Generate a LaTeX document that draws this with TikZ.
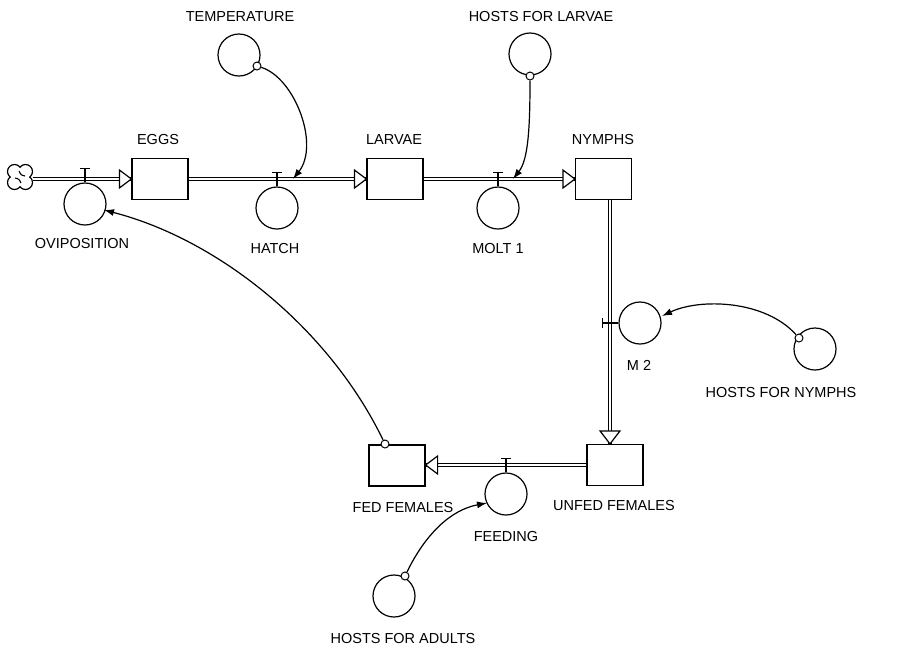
\documentclass[tikz,border=0pt]{standalone}
\usepackage{fontspec}
\setmainfont{Liberation Sans}
\usetikzlibrary{arrows.meta}
\begin{document}
\begin{tikzpicture}[x=1pt,y=-1pt,
 stock/.style={draw,line width=1.2pt,minimum width=56pt,minimum height=41pt,inner sep=0pt},
 aux/.style={draw,circle,line width=1.2pt,minimum size=42pt,inner sep=0pt},
 srcdot/.style={draw,circle,line width=1pt,fill=white,minimum size=8pt,inner sep=0pt},
 lbl/.style={font=\fontsize{14.5}{16}\selectfont,inner sep=0pt},
 pipe/.style={line width=1pt,double=white,double distance=2.4pt},
 fliptip/.style={line width=1.2pt,fill=white,line join=miter},
 conn/.style={line width=1.2pt,-{Latex[length=10pt,width=7pt]}},
 valve/.style={line width=1.2pt}]
\useasboundingbox (0,0) rectangle (901,649);

% stocks
\node[stock] (eggs) at (160,179) {};
\node[stock] (larvae) at (395,179) {};
\node[stock] (nymphs) at (603.5,179) {};
\node[stock] (unfed) at (615,465) {};
\node[stock] (fed) at (397,465.5) {};

% source cloud
\coordinate (cloud) at (20,177);
\foreach \dx/\dy in {5.5/5.5,5.5/-5.5,-5.5/5.5,-5.5/-5.5}
  \draw[line width=1.2pt,fill=white] ([shift={(\dx,\dy)}]cloud) circle (7);
\fill[white] (cloud) circle (9.2);
\draw[line width=1.1pt] ([shift={(-1,-6)}]cloud) .. controls ([shift={(1,-2)}]cloud) .. ([shift={(5,-1)}]cloud)
  ([shift={(1,6)}]cloud) .. controls ([shift={(-1,2)}]cloud) .. ([shift={(-5,1)}]cloud);

% auxiliaries / flow rates
\node[aux] (ovi) at (85,204) {};
\node[aux] (hatch) at (277,208) {};
\node[aux] (molt) at (498,208) {};
\node[aux] (m2) at (640,323) {};
\node[aux] (feed) at (506,494) {};
\node[aux] (temp) at (239,55) {};
\node[aux] (hlarv) at (530,54) {};
\node[aux] (hnymph) at (815,349) {};
\node[aux] (hadult) at (394,596) {};

% pipes
\draw[pipe] ([xshift=12.5pt]cloud |- eggs.west) -- (eggs.west);
\draw[pipe] (eggs.east) -- (larvae.west);
\draw[pipe] (larvae.east) -- (nymphs.west);
\draw[pipe] ([xshift=6.5pt]nymphs.south) -- ([xshift=-5pt]unfed.north);
\draw[pipe] (unfed.west) -- (fed.east |- unfed.west);

% flow arrow tips
\draw[fliptip] (eggs.west) -- ++(-12,-9) -- ++(0,18) -- cycle;
\draw[fliptip] (larvae.west) -- ++(-12,-9) -- ++(0,18) -- cycle;
\draw[fliptip] (nymphs.west) -- ++(-12,-9) -- ++(0,18) -- cycle;
\draw[fliptip] ([xshift=-5pt]unfed.north) -- ++(-10,-13) -- ++(20,0) -- cycle;
\draw[fliptip] (fed.east |- unfed.west) -- ++(12,-9) -- ++(0,18) -- cycle;

% valves
\draw[valve] (ovi.north) -- ++(0,-14) ++(-5,0) -- ++(10,0);
\draw[valve] (hatch.north) -- ++(0,-14) ++(-5,0) -- ++(10,0);
\draw[valve] (molt.north) -- ++(0,-14) ++(-5,0) -- ++(10,0);
\draw[valve] (m2.west) -- ++(-16,0) ++(0,-5) -- ++(0,10);
\draw[valve] (feed.north) -- ++(0,-14) ++(-5,0) -- ++(10,0);

% connector origins and ends
\node[srcdot] (tso) at (257,66) {};
\node[srcdot] (lso) at (530,76) {};
\node[srcdot] (nso) at (799,338) {};
\node[srcdot] (aso) at (405,576) {};
\node[srcdot] (fso) at (385,444) {};
\coordinate (hatchin) at (293,179);
\coordinate (moltin) at (513,179);
\coordinate (m2in) at (662,316);
\coordinate (feedin) at (487,503);
\coordinate (oviin) at (104,210);

\draw[conn] (tso) .. controls (295,78) and (320,145) .. (hatchin);
\draw[conn] (lso) .. controls (530,130) and (528,160) .. (moltin);
\draw[conn] (nso) .. controls (765,300) and (700,298) .. (m2in);
\draw[conn] (aso) .. controls (425,535) and (450,510) .. (feedin);
\draw[conn] (fso) .. controls (330,330) and (220,240) .. (oviin);

% labels
\node[lbl] (leggs) at (158,140) {EGGS};
\node[lbl] (llarvae) at (394,140) {LARVAE};
\node[lbl] (lnymphs) at (603,140) {NYMPHS};
\node[lbl] (ltemp) at (240,17) {TEMPERATURE};
\node[lbl] (lhlarv) at (541,17) {HOSTS FOR LARVAE};
\node[lbl] (lovi) at (82,243) {OVIPOSITION};
\node[lbl] (lhatch) at (275,248) {HATCH};
\node[lbl] (lmolt) at (498,248) {MOLT 1};
\node[lbl] (lm2) at (639,365) {M~2};
\node[lbl] (lhnymph) at (781,392) {HOSTS FOR NYMPHS};
\node[lbl] (lfed) at (403,507) {FED FEMALES};
\node[lbl] (lunfed) at (614,505) {UNFED FEMALES};
\node[lbl] (lfeed) at (506,536) {FEEDING};
\node[lbl] (lhadult) at (403,638) {HOSTS FOR ADULTS};
\end{tikzpicture}
\end{document}
